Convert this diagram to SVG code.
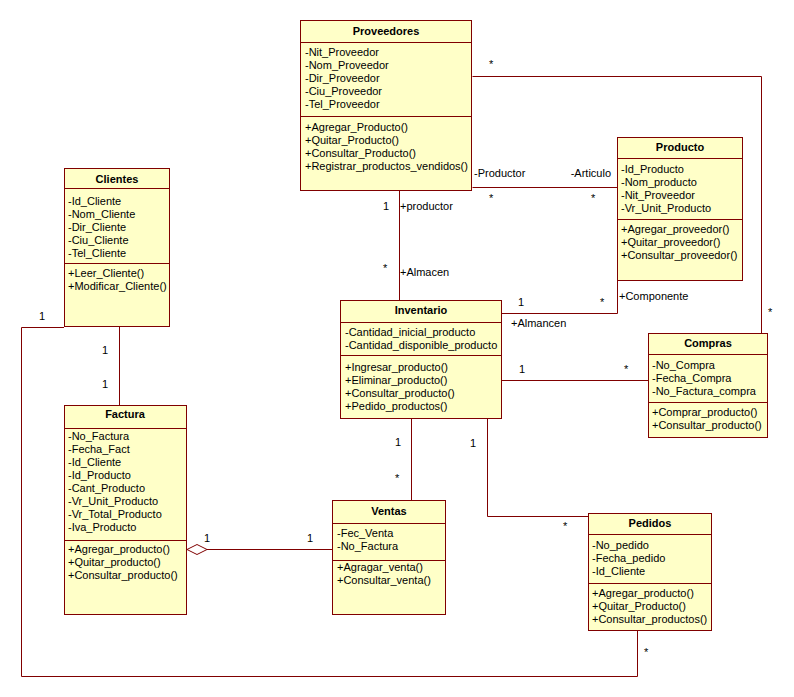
<svg xmlns="http://www.w3.org/2000/svg" width="794" height="697" viewBox="0 0 794 697">
<style>
.box{fill:#ffffc8;stroke:#800000;stroke-width:1}
.sep{stroke:#800000;stroke-width:1}
.ln{fill:none;stroke:#800000;stroke-width:1}
text{font-family:"Liberation Sans",Arial,sans-serif;font-size:11px;fill:#000}
.t{font-weight:bold;text-anchor:middle}
</style>
<rect width="794" height="697" fill="#fff"/>
<g id="connectors">
<polyline class="ln" points="472.5,187.5 617.5,187.5"/>
<polyline class="ln" points="472.5,76.5 761.5,76.5 761.5,333"/>
<polyline class="ln" points="119.5,326 119.5,405"/>
<polyline class="ln" points="64,327.5 21.5,327.5 21.5,676.5 637.5,676.5 637.5,631"/>
<polyline class="ln" points="399.5,191 399.5,300"/>
<polyline class="ln" points="502,313.5 617.5,313.5 617.5,281"/>
<polyline class="ln" points="502,380.5 648,380.5"/>
<polyline class="ln" points="411.5,418 411.5,500"/>
<polyline class="ln" points="207,549.5 332,549.5"/>
<polygon class="ln" points="187,549.5 197,544.5 207,549.5 197,554.5" style="fill:#fff"/>
<polyline class="ln" points="487.5,418 487.5,516.5 588,516.5"/>
<text x="474" y="177">-Productor</text>
<text x="611" y="177" text-anchor="end">-Articulo</text>
<text x="489" y="202">*</text>
<text x="591" y="202">*</text>
<text x="489" y="68">*</text>
<text x="768" y="316">*</text>
<text x="102" y="354">1</text>
<text x="102" y="388">1</text>
<text x="39" y="320">1</text>
<text x="644" y="656">*</text>
<text x="383" y="210">1</text>
<text x="400" y="210">+productor</text>
<text x="383" y="272">*</text>
<text x="400" y="276">+Almacen</text>
<text x="518" y="306">1</text>
<text x="600" y="306">*</text>
<text x="619" y="300">+Componente</text>
<text x="511" y="327">+Almancen</text>
<text x="519" y="373">1</text>
<text x="624" y="373">*</text>
<text x="395" y="446">1</text>
<text x="395" y="482">*</text>
<text x="204" y="542">1</text>
<text x="307" y="542">1</text>
<text x="470" y="447">1</text>
<text x="563" y="530">*</text>
</g>
<g id="Proveedores">
<rect class="box" x="300.5" y="20.5" width="171" height="170"/>
<line class="sep" x1="300.5" y1="42.5" x2="471.5" y2="42.5"/>
<line class="sep" x1="300.5" y1="116.5" x2="471.5" y2="116.5"/>
<text class="t" x="386" y="35">Proveedores</text>
<text x="305" y="56">-Nit_Proveedor</text>
<text x="305" y="69">-Nom_Proveedor</text>
<text x="305" y="82">-Dir_Proveedor</text>
<text x="305" y="95">-Ciu_Proveedor</text>
<text x="305" y="108">-Tel_Proveedor</text>
<text x="305" y="131">+Agregar_Producto()</text>
<text x="305" y="144">+Quitar_Producto()</text>
<text x="305" y="157">+Consultar_Producto()</text>
<text x="305" y="170">+Registrar_productos_vendidos()</text>
</g>
<g id="Producto">
<rect class="box" x="617.5" y="137.5" width="125" height="143"/>
<line class="sep" x1="617.5" y1="158.5" x2="742.5" y2="158.5"/>
<line class="sep" x1="617.5" y1="219.5" x2="742.5" y2="219.5"/>
<text class="t" x="680" y="151">Producto</text>
<text x="621" y="173">-Id_Producto</text>
<text x="621" y="186">-Nom_producto</text>
<text x="621" y="199">-Nit_Proveedor</text>
<text x="621" y="212">-Vr_Unit_Producto</text>
<text x="621" y="233">+Agregar_proveedor()</text>
<text x="621" y="246">+Quitar_proveedor()</text>
<text x="621" y="259">+Consultar_proveedor()</text>
</g>
<g id="Clientes">
<rect class="box" x="64.5" y="168.5" width="105" height="158"/>
<line class="sep" x1="64.5" y1="188.5" x2="169.5" y2="188.5"/>
<line class="sep" x1="64.5" y1="263.5" x2="169.5" y2="263.5"/>
<text class="t" x="117" y="183">Clientes</text>
<text x="68" y="205">-Id_Cliente</text>
<text x="68" y="218">-Nom_Cliente</text>
<text x="68" y="231">-Dir_Cliente</text>
<text x="68" y="244">-Ciu_Cliente</text>
<text x="68" y="257">-Tel_Cliente</text>
<text x="68" y="277">+Leer_Cliente()</text>
<text x="68" y="290">+Modificar_Cliente()</text>
</g>
<g id="Factura">
<rect class="box" x="64.5" y="405.5" width="122" height="209"/>
<line class="sep" x1="64.5" y1="428.5" x2="186.5" y2="428.5"/>
<line class="sep" x1="64.5" y1="540.5" x2="186.5" y2="540.5"/>
<text class="t" x="125" y="418">Factura</text>
<text x="68" y="440">-No_Factura</text>
<text x="68" y="453">-Fecha_Fact</text>
<text x="68" y="466">-Id_Cliente</text>
<text x="68" y="479">-Id_Producto</text>
<text x="68" y="492">-Cant_Producto</text>
<text x="68" y="505">-Vr_Unit_Producto</text>
<text x="68" y="518">-Vr_Total_Producto</text>
<text x="68" y="531">-Iva_Producto</text>
<text x="68" y="553">+Agregar_producto()</text>
<text x="68" y="566">+Quitar_producto()</text>
<text x="68" y="579">+Consultar_producto()</text>
</g>
<g id="Inventario">
<rect class="box" x="340.5" y="300.5" width="161" height="118"/>
<line class="sep" x1="340.5" y1="322.5" x2="501.5" y2="322.5"/>
<line class="sep" x1="340.5" y1="355.5" x2="501.5" y2="355.5"/>
<text class="t" x="421" y="314">Inventario</text>
<text x="345" y="336">-Cantidad_inicial_producto</text>
<text x="345" y="349">-Cantidad_disponible_producto</text>
<text x="345" y="371">+Ingresar_producto()</text>
<text x="345" y="384">+Eliminar_producto()</text>
<text x="345" y="397">+Consultar_producto()</text>
<text x="345" y="410">+Pedido_productos()</text>
</g>
<g id="Compras">
<rect class="box" x="648.5" y="333.5" width="119" height="104"/>
<line class="sep" x1="648.5" y1="354.5" x2="767.5" y2="354.5"/>
<line class="sep" x1="648.5" y1="402.5" x2="767.5" y2="402.5"/>
<text class="t" x="708" y="347">Compras</text>
<text x="652" y="369">-No_Compra</text>
<text x="652" y="382">-Fecha_Compra</text>
<text x="652" y="395">-No_Factura_compra</text>
<text x="652" y="416">+Comprar_producto()</text>
<text x="652" y="429">+Consultar_producto()</text>
</g>
<g id="Ventas">
<rect class="box" x="332.5" y="500.5" width="113" height="114"/>
<line class="sep" x1="332.5" y1="523.5" x2="445.5" y2="523.5"/>
<line class="sep" x1="332.5" y1="560.5" x2="445.5" y2="560.5"/>
<text class="t" x="389" y="515">Ventas</text>
<text x="337" y="537">-Fec_Venta</text>
<text x="337" y="550">-No_Factura</text>
<text x="337" y="571">+Agragar_venta()</text>
<text x="337" y="584">+Consultar_venta()</text>
</g>
<g id="Pedidos">
<rect class="box" x="588.5" y="513.5" width="123" height="117"/>
<line class="sep" x1="588.5" y1="534.5" x2="711.5" y2="534.5"/>
<line class="sep" x1="588.5" y1="583.5" x2="711.5" y2="583.5"/>
<text class="t" x="650" y="527">Pedidos</text>
<text x="592" y="549">-No_pedido</text>
<text x="592" y="562">-Fecha_pedido</text>
<text x="592" y="575">-Id_Cliente</text>
<text x="592" y="597">+Agregar_producto()</text>
<text x="592" y="610">+Quitar_Producto()</text>
<text x="592" y="623">+Consultar_productos()</text>
</g>
</svg>
